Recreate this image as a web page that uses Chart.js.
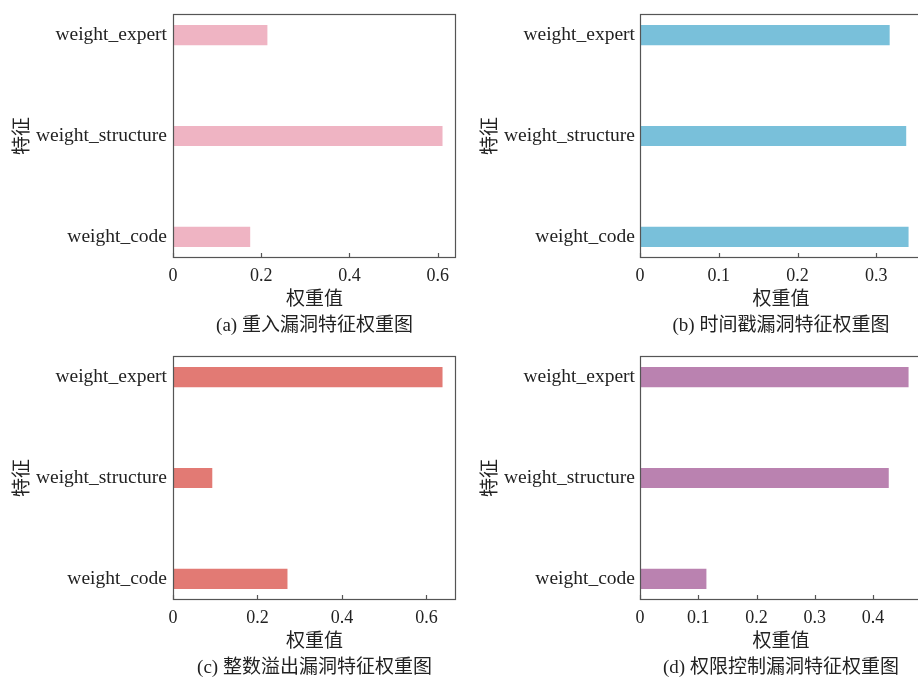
<!DOCTYPE html>
<html>
<head>
<meta charset="utf-8">
<script src="https://cdn.jsdelivr.net/npm/chart.js@4.4.1/dist/chart.umd.min.js"></script>
<style>
  html, body { margin: 0; padding: 0; background: #fff; }
  body { width: 918px; height: 677px; overflow: hidden; position: relative; }
  .panel { position: absolute; height: 340px; }
</style>
</head>
<body>
<div class="panel" style="left:0;top:0;width:460px"><canvas id="chartA"></canvas></div>
<div class="panel" style="left:460px;top:0;width:470px"><canvas id="chartB"></canvas></div>
<div class="panel" style="left:0;top:342px;width:460px"><canvas id="chartC"></canvas></div>
<div class="panel" style="left:460px;top:342px;width:470px"><canvas id="chartD"></canvas></div>
<script>
// features, bottom to top
const features = ['weight_code', 'weight_structure', 'weight_expert'];

const reentryWeights = [0.175, 0.611, 0.214];
const timestampWeights = [0.341, 0.338, 0.317];
const overflowWeights = [0.271, 0.093, 0.638];
const accessWeights = [0.114, 0.427, 0.461];

const ticksA = [0, 0.2, 0.4, 0.6];
const ticksB = [0, 0.1, 0.2, 0.3];
const ticksC = [0, 0.2, 0.4, 0.6];
const ticksD = [0, 0.1, 0.2, 0.3, 0.4];

const captions = [
  '(a) 重入漏洞特征权重图',
  '(b) 时间戳漏洞特征权重图',
  '(c) 整数溢出漏洞特征权重图',
  '(d) 权限控制漏洞特征权重图'
];

const SERIF = "'Liberation Serif', 'Noto Sans CJK SC', serif";
const TEXT = '#222';

// box around the plot + short inward ticks on the x axis
const frameAndTicks = {
  id: 'frameAndTicks',
  afterDatasetsDraw(chart) {
    const { ctx, chartArea: a } = chart;
    const x = chart.scales.x;
    ctx.save();
    ctx.strokeStyle = '#555';
    ctx.lineWidth = 1.2;
    ctx.strokeRect(a.left + 0.5, a.top + 0.5, a.right - a.left - 1, a.bottom - a.top - 1);
    x.ticks.forEach(t => {
      const px = Math.round(x.getPixelForValue(t.value)) + 0.5;
      ctx.beginPath();
      ctx.moveTo(px, a.bottom);
      ctx.lineTo(px, a.bottom - 5);
      ctx.stroke();
    });
    ctx.restore();
  }
};

function makePanel(id, values, color, tickValues, caption, isRight) {
  const ctx = document.getElementById(id).getContext('2d');
  const xMax = Math.max(...values) * 1.05;

  return new Chart(ctx, {
    type: 'bar',
    data: {
      datasets: [{
        data: values.map((v, i) => ({ x: v, y: i })),
        backgroundColor: color,
        borderWidth: 0,
        categoryPercentage: 0.2,
        barPercentage: 1
      }]
    },
    options: {
      indexAxis: 'y',
      responsive: true,
      maintainAspectRatio: false,
      animation: false,
      layout: { padding: { left: 0, top: 14, right: isRight ? 8 : 4, bottom: 0 } },
      plugins: {
        legend: { display: false },
        tooltip: { enabled: false }
      },
      scales: {
        y: {
          type: 'linear',
          offset: false,
          min: -0.21,
          max: 2.21,
          afterBuildTicks: axis => { axis.ticks = features.map((f, i) => ({ value: i })); },
          afterFit: axis => {
            axis.width = isRight ? 180 : 173;
            axis.paddingTop = 0;
            axis.paddingBottom = 0;
          },
          grid: { display: false, drawTicks: false, offset: false },
          border: { display: false },
          ticks: {
            color: TEXT,
            padding: isRight ? 5 : 6,
            font: { family: SERIF, size: 19.5 },
            callback: v => features[v]
          },
          title: {
            display: true,
            text: '特征',
            color: TEXT,
            font: { family: SERIF, size: 19 },
            padding: { top: isRight ? 19.6 : 11.6, bottom: 0 }
          }
        },
        x: {
          type: 'linear',
          min: 0,
          max: xMax,
          afterBuildTicks: axis => { axis.ticks = tickValues.map(v => ({ value: v })); },
          afterFit: axis => { axis.height = 82; },
          grid: { display: false, drawTicks: false },
          border: { display: false },
          ticks: {
            color: TEXT,
            padding: 7,
            maxRotation: 0,
            font: { family: SERIF, size: 18 },
            callback: v => (v === 0 ? '0' : v.toFixed(1))
          },
          title: {
            display: true,
            text: ['权重值', caption],
            color: TEXT,
            font: { family: SERIF, size: 19, lineHeight: 1.34 },
            padding: { top: 0, bottom: 1.3 }
          }
        }
      }
    },
    plugins: [frameAndTicks]
  });
}

makePanel('chartA', reentryWeights, '#efb4c3', ticksA, captions[0], false);
makePanel('chartB', timestampWeights, '#79c0da', ticksB, captions[1], true);
makePanel('chartC', overflowWeights, '#e27a74', ticksC, captions[2], false);
makePanel('chartD', accessWeights, '#ba82b0', ticksD, captions[3], true);
</script>
</body>
</html>
